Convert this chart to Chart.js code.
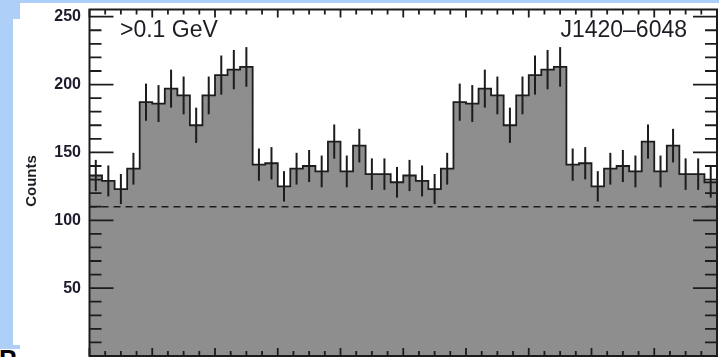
<!DOCTYPE html>
<html>
<head>
<meta charset="utf-8">
<script src="https://cdn.jsdelivr.net/npm/chart.js@4/dist/chart.umd.min.js"></script>
<style>
  html, body { margin: 0; padding: 0; background: #ffffff; }
  #wrap { position: relative; width: 719px; height: 357px; overflow: hidden; background: #ffffff; }
  .band { position: absolute; background: #aed0f8; }
  #slideLetter { position: absolute; left: -1px; top: 346px; font: bold 26px "Liberation Sans", Arial, sans-serif; line-height: 26px; color: #000; }
  canvas { position: absolute; left: 0; top: 0; }
</style>
</head>
<body>
<div id="wrap">
  <div class="band" style="left:0;top:0;width:719px;height:3px;"></div>
  <div class="band" style="left:0;top:0;width:13px;height:345px;"></div>
  <div class="band" style="left:0;top:0;width:20px;height:19px;"></div>
  <div class="band" style="left:0;top:345px;width:20px;height:4px;"></div>
  <div id="slideLetter">P</div>
  <canvas id="c" width="719" height="357"></canvas>
</div>
<script>
// Pulse-phase histogram, two rotations shown, 25 bins per rotation
const binWidth = 0.04;
const counts = [
  133, 129, 123, 138, 187, 186, 197, 192, 170, 192, 207, 211, 213,
  141, 142, 125, 138, 140, 136, 158, 136, 155, 134, 134, 128,
  133, 129, 123, 138, 187, 186, 197, 192, 170, 192, 207, 211, 213,
  141, 142, 125, 138, 140, 136, 158, 136, 155, 134, 134, 128
];
const countErrors = [
  11.5, 11.4, 11.1, 11.7, 13.7, 13.6, 14.0, 13.9, 13.0, 13.9, 14.4, 14.5, 14.6,
  11.9, 11.9, 11.2, 11.7, 11.8, 11.7, 12.6, 11.7, 12.4, 11.6, 11.6, 11.3,
  11.5, 11.4, 11.1, 11.7, 13.7, 13.6, 14.0, 13.9, 13.0, 13.9, 14.4, 14.5, 14.6,
  11.9, 11.9, 11.2, 11.7, 11.8, 11.7, 12.6, 11.7, 12.4, 11.6, 11.6, 11.3
];
const backgroundLevel = [110, 110];
const countTickLabels = [50, 100, 150, 200, 250];
const energyLabel = '>0.1 GeV';
const pulsarName = 'J1420\u20136048';
const axisTitle = 'Counts';

// step outline: left edge of every bin, then closing point at the right end
const histPoints = counts.map((c, i) => ({ x: i * binWidth, y: c }));
histPoints.push({ x: counts.length * binWidth, y: counts[counts.length - 1] });

const ink = '#1c1c1c';

const errorBars = {
  id: 'errorBars',
  afterDatasetsDraw(chart) {
    const { ctx, scales: { x, y } } = chart;
    ctx.save();
    ctx.strokeStyle = ink;
    ctx.lineWidth = 2;
    counts.forEach((c, i) => {
      const px = x.getPixelForValue((i + 0.5) * binWidth);
      ctx.beginPath();
      ctx.moveTo(px, y.getPixelForValue(c - countErrors[i]));
      ctx.lineTo(px, y.getPixelForValue(c + countErrors[i]));
      ctx.stroke();
    });
    ctx.restore();
  }
};

const frameAndTicks = {
  id: 'frameAndTicks',
  afterDraw(chart) {
    const { ctx, chartArea: a, scales: { x, y } } = chart;
    ctx.save();
    ctx.strokeStyle = ink;
    ctx.lineWidth = 1.8;
    // y ticks on both sides, pointing inward
    for (let v = 0; v <= 250; v += 10) {
      const py = y.getPixelForValue(v);
      const len = v % 50 === 0 ? 24 : 12;
      ctx.beginPath();
      ctx.moveTo(a.left, py); ctx.lineTo(a.left + len, py);
      ctx.moveTo(a.right, py); ctx.lineTo(a.right - len, py);
      ctx.stroke();
    }
    // x ticks on top and bottom, pointing inward
    for (let k = 0; k <= 40; k++) {
      const px = x.getPixelForValue(k * 0.05);
      const len = k % 4 === 0 ? 8 : 5;
      ctx.beginPath();
      ctx.moveTo(px, a.bottom); ctx.lineTo(px, a.bottom - len);
      ctx.moveTo(px, a.top); ctx.lineTo(px, a.top + len);
      ctx.stroke();
    }
    ctx.lineWidth = 2;
    ctx.strokeRect(a.left, a.top, a.right - a.left, a.bottom - a.top);

    // annotations
    ctx.fillStyle = '#1c1c24';
    ctx.font = '23px "Liberation Sans", Arial, sans-serif';
    ctx.textBaseline = 'alphabetic';
    ctx.textAlign = 'left';
    ctx.fillText(energyLabel, 120, 37);
    ctx.textAlign = 'right';
    ctx.fillText(pulsarName, 687, 37);

    // axis title
    ctx.font = 'bold 15px "Liberation Sans", Arial, sans-serif';
    ctx.translate(32, 181);
    ctx.rotate(-Math.PI / 2);
    ctx.textAlign = 'center';
    ctx.textBaseline = 'middle';
    ctx.fillText(axisTitle, 0, 0);
    ctx.restore();
  }
};

new Chart(document.getElementById('c'), {
  type: 'line',
  data: {
    datasets: [
      {
        label: 'background',
        data: [{ x: 0, y: backgroundLevel[0] }, { x: 2, y: backgroundLevel[1] }],
        borderColor: ink,
        borderWidth: 1.6,
        borderDash: [7, 5],
        pointRadius: 0,
        fill: false,
        order: 0
      },
      {
        label: 'counts',
        data: histPoints,
        stepped: 'before',
        borderColor: ink,
        borderWidth: 1.8,
        backgroundColor: '#8e8e8e',
        fill: 'origin',
        pointRadius: 0,
        order: 1
      }
    ]
  },
  options: {
    responsive: false,
    animation: false,
    events: [],
    layout: { padding: { left: 0, top: 9.5, right: 2, bottom: 1 } },
    plugins: { legend: { display: false }, tooltip: { enabled: false } },
    scales: {
      x: {
        type: 'linear',
        min: 0,
        max: 2,
        display: false
      },
      y: {
        type: 'linear',
        min: 0,
        max: 255.3,
        afterFit(scale) {
          scale.width = 89.5;
          scale.paddingTop = 0;
          scale.paddingBottom = 0;
        },
        grid: { display: false, drawTicks: false },
        border: { display: false },
        ticks: {
          stepSize: 50,
          includeBounds: false,
          padding: 8.5,
          color: '#1c1c2c',
          font: { family: '"Liberation Sans", Arial, sans-serif', size: 16, weight: 'bold' },
          callback: (v) => countTickLabels.includes(v) ? String(v) : ''
        }
      }
    }
  },
  plugins: [errorBars, frameAndTicks]
});
</script>
</body>
</html>
